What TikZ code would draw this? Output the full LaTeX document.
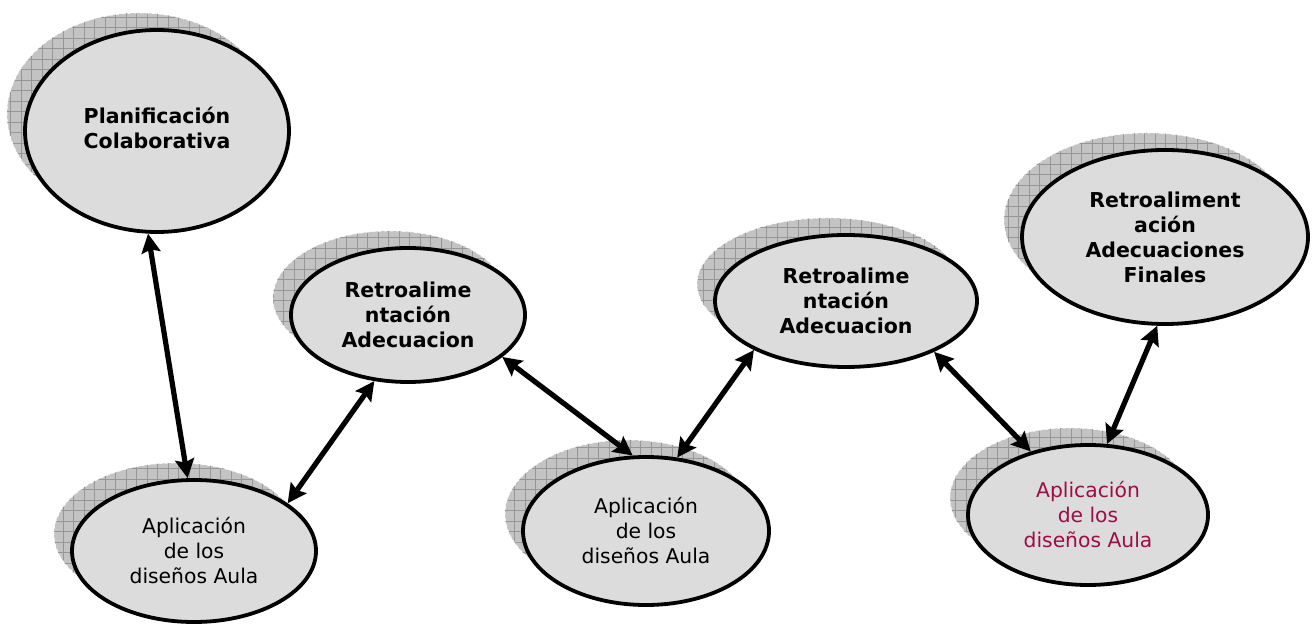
\documentclass[tikz,border=0pt]{standalone}
\usepackage{fontspec}
\setmainfont{DejaVu Sans}
\usetikzlibrary{shapes.geometric,arrows.meta}
\definecolor{bubfill}{RGB}{220,220,220}
\definecolor{shadefill}{RGB}{195,195,195}
\definecolor{shadegrid}{RGB}{150,150,150}
\definecolor{aulared}{RGB}{158,12,70}
\newcommand\shadowell[4]{%
  \begin{scope}
    \clip (#1-18,#2+17) ellipse [x radius=#3, y radius=#4];
    \fill[shadefill] (#1-18-#3-2,#2+17-#4-2) rectangle (#1-18+#3+2,#2+17+#4+2);
    \draw[shadegrid, line width=0.7pt, step=10.5pt] (#1-18-#3-2,#2+17-#4-2) grid (#1-18+#3+2,#2+17+#4+2);
  \end{scope}
  \draw[white, line width=0.6pt, dash pattern=on 3pt off 3pt] (#1-18,#2+17) ellipse [x radius=#3, y radius=#4];
}
\tikzset{
  bub/.style={ellipse, draw=black, line width=3.8pt, fill=bubfill, inner sep=0pt, align=center},
  boldtxt/.style={font=\fontsize{20.5}{25}\selectfont\bfseries},
  regtxt/.style={font=\fontsize{20.3}{25}\selectfont},
  conn/.style={line width=5.2pt, {Stealth[length=19pt,width=19pt,inset=3pt]}-{Stealth[length=19pt,width=19pt,inset=3pt]}}
}
\begin{document}
\begin{tikzpicture}[x=1pt,y=1pt]
\useasboundingbox[fill=white] (0,0) rectangle (1313,626);
% shadows
\shadowell{157}{495}{132}{101}
\shadowell{194}{75}{122}{71}
\shadowell{408}{311}{117}{67}
\shadowell{646}{95}{123}{74}
\shadowell{846}{325}{131}{66}
\shadowell{1088}{111}{120}{70}
\shadowell{1165}{389}{143}{87}
% bubbles
\node[bub, boldtxt, minimum width=264pt, minimum height=202pt] (P) at (157,495) {\raisebox{10pt}{\begin{tabular}{@{}c@{}}Planificación\\Colaborativa\end{tabular}}};
\node[bub, regtxt, minimum width=244pt, minimum height=142pt] (A1) at (194,75) {Aplicación\\de los\\diseños Aula};
\node[bub, boldtxt, minimum width=234pt, minimum height=134pt] (R1) at (408,311) {Retroalime\\ntación\\Adecuacion};
\node[bub, regtxt, minimum width=246pt, minimum height=148pt] (A2) at (646,95) {Aplicación\\de los\\diseños Aula};
\node[bub, boldtxt, minimum width=262pt, minimum height=132pt] (R2) at (846,325) {Retroalime\\ntación\\Adecuacion};
\node[bub, regtxt, text=aulared, minimum width=240pt, minimum height=140pt] (A3) at (1088,111) {Aplicación\\de los\\diseños Aula};
\node[bub, boldtxt, minimum width=286pt, minimum height=174pt] (F) at (1165,389) {Retroaliment\\ación\\Adecuaciones\\Finales};
% connectors
\draw[conn] (P.265) -- (A1.95);
\draw[conn] (A1.27) -- (R1.243);
\draw[conn] (R1.336) -- (A2.100);
\draw[conn] (A2.67) -- (R2.208);
\draw[conn] (R2.330) -- (A3.132);
\draw[conn] (A3.75) -- (F.265);
\end{tikzpicture}
\end{document}
